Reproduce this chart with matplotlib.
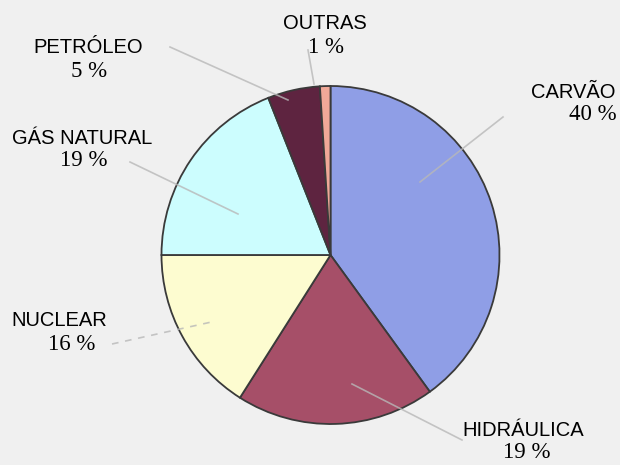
import matplotlib
matplotlib.use("Agg")
import matplotlib.pyplot as plt

categories = ["CARVÃO", "HIDRÁULICA", "NUCLEAR", "GÁS NATURAL", "PETRÓLEO", "OUTRAS"]
values = [40, 19, 16, 19, 5, 1]
pct_labels = ["40 %", "19 %", "16 %", "19 %", "5 %", "1 %"]
colors = ["#8f9ee6", "#a64f68", "#fdfcd0", "#ccfdfe", "#5e2440", "#f0a898"]

W, H = 620, 465
fig = plt.figure(figsize=(6.2, 4.65), dpi=100)
fig.patch.set_facecolor("#f0f0f0")
ax = fig.add_axes([0, 0, 1, 1])
ax.set_xlim(0, W)
ax.set_ylim(0, H)
ax.set_aspect("equal")
ax.axis("off")

def Y(py):
    return H - py

ax.pie(values, colors=colors, startangle=90, counterclock=False,
       center=(330.5, Y(255)), radius=169, frame=True,
       wedgeprops=dict(edgecolor="#3a3a3a", linewidth=1.3))
ax.set_xlim(0, W)
ax.set_ylim(0, H)
ax.axis("off")

# leader lines (faint)
leaders = [
    ((503, 117), (420, 182), "-"),     # carvao
    ((462, 440), (352, 384), "-"),     # hidraulica
    ((112, 344), (216, 321), (0, (4, 4))),  # nuclear
    ((130, 162), (238, 214), "-"),     # gas
    ((170, 47), (288, 100), "-"),      # petroleo
    ((308, 50), (314, 84), "-"),       # outras
]
for (x0, y0), (x1, y1), ls in leaders:
    ax.plot([x0, x1], [Y(y0), Y(y1)], color="#b8b8b8", lw=1.2, ls=ls, alpha=0.8, zorder=5)

sans = "Liberation Sans"
serif = "Liberation Serif"
# label positions: (name x, name y, pct x, pct y, ha)
label_pos = [
    (616, 92, 617, 115, "right"),
    (523, 431, 527, 452, "center"),
    (59, 320, 72, 345, "center"),
    (82, 138, 84, 160, "center"),
    (88, 48, 89, 72, "center"),
    (325, 24, 326, 48, "center"),
]
for name, pct, (nx, ny, px, py, ha) in zip(categories, pct_labels, label_pos):
    ax.text(nx, Y(ny), name, family=sans, fontsize=14.5, ha=ha, va="center", color="#000000", zorder=6)
    ax.text(px, Y(py), pct, family=serif, fontsize=16.5, ha=ha, va="center", color="#000000", zorder=6)

fig.savefig("out.png", dpi=100, facecolor=fig.get_facecolor())
